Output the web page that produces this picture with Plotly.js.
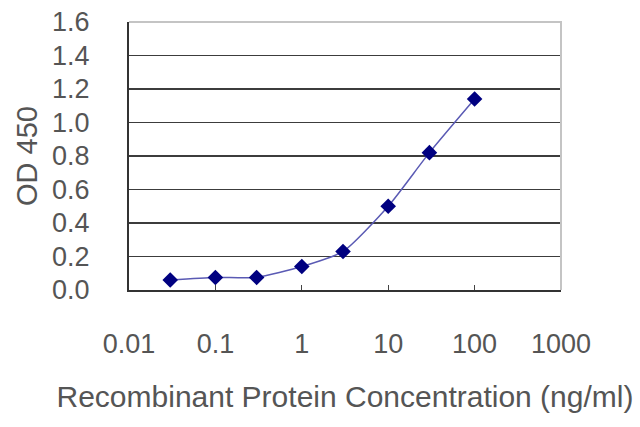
<!DOCTYPE html>
<html>
<head>
<meta charset="utf-8">
<script src="https://cdn.plot.ly/plotly-3.0.1.min.js"></script>
<style>
  html, body { margin: 0; padding: 0; background: white; }
  #myDiv { width: 640px; height: 427px; }
</style>
</head>
<body>
<div id="myDiv"></div>
<script>
// concentration (ng/ml) and OD 450 readings
const concentrations = [0.03, 0.1, 0.3, 1, 3, 10, 30, 100];
const od450 = [0.06, 0.075, 0.075, 0.14, 0.23, 0.50, 0.82, 1.14];

const xTickVals = [0.01, 0.1, 1, 10, 100, 1000];
const xTickText = ["0.01", "0.1", "1", "10", "100", "1000"];
const yTickVals = [0, 0.2, 0.4, 0.6, 0.8, 1.0, 1.2, 1.4, 1.6];
const yTickText = ["0.0", "0.2", "0.4", "0.6", "0.8", "1.0", "1.2", "1.4", "1.6"];

const textColor = "#555555";
const font = "Liberation Sans, Arial, sans-serif";

var data = [
    {
        type: "scatter",
        mode: "lines+markers",
        x: concentrations,
        y: od450,
        line: { color: "#5a5ab4", width: 1.5, shape: "spline", smoothing: 0.6 },
        marker: { symbol: "diamond", size: 12, color: "#000080" },
        cliponaxis: false,
    },
];

let layout = {
    width: 640,
    height: 427,
    margin: { l: 129, r: 79, t: 22, b: 137 },
    paper_bgcolor: "white",
    plot_bgcolor: "white",
    showlegend: false,
    font: { family: font, color: textColor, size: 26 },
    xaxis: {
        type: "log",
        range: [-2, 3],
        tickvals: xTickVals,
        ticktext: xTickText,
        showgrid: false,
        zeroline: false,
        showline: true,
        linecolor: "#333333",
        linewidth: 2,
        mirror: false,
        ticks: "inside",
        ticklen: 5,
        tickcolor: "#444444",
        ticklabelstandoff: 29,
        tickfont: { size: 27, color: textColor },
        title: {
            text: "Recombinant Protein Concentration (ng/ml)",
            font: { size: 30, color: textColor },
            standoff: 28,
        },
    },
    yaxis: {
        range: [0, 1.6],
        tickvals: yTickVals,
        ticktext: yTickText,
        showgrid: true,
        gridcolor: "#3c3c3c",
        gridwidth: 1.5,
        zeroline: false,
        showline: true,
        linecolor: "#333333",
        linewidth: 2,
        ticks: "",
        ticklabelstandoff: 32,
        tickfont: { size: 27, color: textColor },
        title: {
            text: "OD 450",
            font: { size: 29, color: textColor },
            standoff: 6,
        },
    },
    shapes: [
        // light border along top and right of the plot area
        {
            type: "path",
            xref: "paper",
            yref: "paper",
            path: "M 0 1 L 1 1 L 1 0",
            line: { color: "#c4c4c4", width: 2 },
        },
    ],
};

Plotly.newPlot("myDiv", data, layout, {
    displayModeBar: false,
    staticPlot: true,
});
</script>
</body>
</html>
